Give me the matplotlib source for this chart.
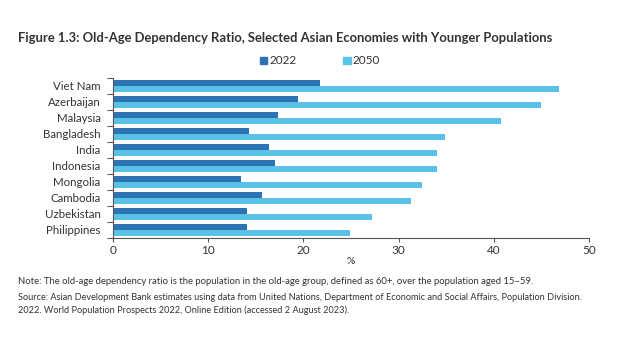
import matplotlib
matplotlib.use("Agg")
import matplotlib.pyplot as plt
import numpy as np
from matplotlib.patches import Patch
from matplotlib.ticker import FixedLocator

countries = ["Viet Nam", "Azerbaijan", "Malaysia", "Bangladesh", "India",
             "Indonesia", "Mongolia", "Cambodia", "Uzbekistan", "Philippines"]
v2022 = [21.7, 19.4, 17.3, 14.3, 16.4, 17.0, 13.4, 15.7, 14.1, 14.1]
v2050 = [46.9, 45.0, 40.8, 34.9, 34.0, 34.0, 32.5, 31.3, 27.2, 24.9]
series_labels = ["2022", "2050"]
xticks = [0, 10, 20, 30, 40, 50]

c_dark = "#2d72b2"
c_light = "#5bc2e7"
txt = "#333333"

W, H = 620, 346
fig = plt.figure(figsize=(W / 100, H / 100), dpi=100)
plt.rcParams['font.family'] = ['Lato', 'DejaVu Sans']

ax = fig.add_axes([113 / W, 1 - 238 / H, (589 - 113) / W, (238 - 78) / H])
y = np.arange(len(countries))
h = 0.36
ax.barh(y - h / 2, v2022, height=h, color=c_dark, label=series_labels[0])
ax.barh(y + h / 2, v2050, height=h, color=c_light, label=series_labels[1])
ax.set_ylim(len(countries) - 0.5, -0.5)
ax.set_xlim(0, 50)
ax.set_yticks(y)
ax.set_yticklabels(countries, fontsize=8.3, color=txt)
ax.yaxis.set_minor_locator(FixedLocator(np.arange(-0.5, len(countries), 1)))
ax.tick_params(axis='y', which='major', length=0, pad=9)
ax.tick_params(axis='y', which='minor', length=4, width=0.8, color="#555555")
ax.set_xticks(xticks)
ax.set_xticklabels([str(t) for t in xticks], fontsize=8.5, color=txt)
ax.tick_params(axis='x', length=3, width=0.8, color="#555555", pad=2)
for s in ["top", "right"]:
    ax.spines[s].set_visible(False)
for s in ["left", "bottom"]:
    ax.spines[s].set_color("#555555")
    ax.spines[s].set_linewidth(0.8)
ax.set_xlabel("%", fontsize=7.5, color=txt, labelpad=1)

handles = [Patch(color=c_dark), Patch(color=c_light)]
fig.legend(handles, series_labels, loc="center", bbox_to_anchor=(320 / W, 1 - 61 / H),
           ncol=2, frameon=False, fontsize=8.5, handlelength=0.6, handleheight=0.6,
           handletextpad=0.2, columnspacing=4.0, labelcolor=txt)

renderer = fig.canvas.get_renderer()

def fit_text(x, yc, s, target_w, size, **kw):
    t = fig.text(x / W, 1 - yc / H, s, fontsize=size, va="center", ha="left", color=txt, **kw)
    w = t.get_window_extent(renderer).width
    t.set_fontsize(size * target_w / w)
    return t

fit_text(18, 38, "Figure 1.3: Old-Age Dependency Ratio, Selected Asian Economies with Younger Populations",
         553 - 18, 11, fontweight="bold")
fit_text(18, 282, "Note: The old-age dependency ratio is the population in the old-age group, defined as 60+, over the population aged 15\u201359.",
         534 - 18, 7)
t1 = fit_text(18, 297, "Source: Asian Development Bank estimates using data from United Nations, Department of Economic and Social Affairs, Population Division.",
              585 - 18, 7)
fig.text(18 / W, 1 - 310 / H, "2022. World Population Prospects 2022, Online Edition (accessed 2 August 2023).",
         fontsize=t1.get_fontsize(), va="center", ha="left", color=txt)

fig.savefig("out.png", dpi=100, facecolor="white")
